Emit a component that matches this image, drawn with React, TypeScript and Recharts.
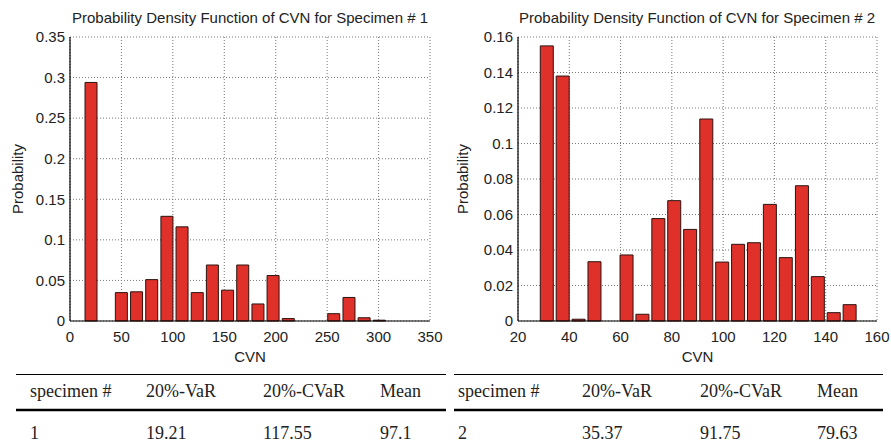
import React from 'react'
import { BarChart, Bar, XAxis, YAxis, CartesianGrid, Label } from 'recharts'

// specimen 1: bin centres (CVN) and probabilities
const cvnBins1 = [20, 34.8, 49.5, 64.3, 79, 93.8, 108.5, 123.3, 138, 152.8, 167.5, 182.3, 197, 211.8, 226.5, 241.3, 256, 270.8, 285.5, 300.3]
const prob1 = [0.294, 0, 0.035, 0.036, 0.051, 0.129, 0.116, 0.035, 0.069, 0.038, 0.069, 0.021, 0.056, 0.003, 0, 0, 0.009, 0.029, 0.004, 0.001]

// specimen 2
const cvnBins2 = [31.4, 37.6, 43.8, 50, 56.3, 62.5, 68.7, 74.9, 81.1, 87.3, 93.6, 99.8, 106, 112.2, 118.4, 124.6, 130.9, 137.1, 143.3, 149.5]
const prob2 = [0.155, 0.138, 0.001, 0.0334, 0, 0.0372, 0.0038, 0.0577, 0.0678, 0.0516, 0.1138, 0.0332, 0.0432, 0.0441, 0.0657, 0.0357, 0.0762, 0.025, 0.0047, 0.0092]

const xTicks1 = [0, 50, 100, 150, 200, 250, 300, 350]
const yTicks1 = [0, 0.05, 0.1, 0.15, 0.2, 0.25, 0.3, 0.35]
const xTicks2 = [20, 40, 60, 80, 100, 120, 140, 160]
const yTicks2 = [0, 0.02, 0.04, 0.06, 0.08, 0.1, 0.12, 0.14, 0.16]

const titles = ['Probability Density Function of CVN for Specimen # 1', 'Probability Density Function of CVN for Specimen # 2']

const tableHeader = ['specimen #', '20%-VaR', '20%-CVaR', 'Mean']
const tableRow1 = ['1', '19.21', '117.55', '97.1']
const tableRow2 = ['2', '35.37', '91.75', '79.63']

const sans = 'Helvetica, Arial, "Liberation Sans", sans-serif'
const serif = '"Times New Roman", "Liberation Serif", serif'
const fmt = (v: number) => String(parseFloat(v.toFixed(2)))

type ChartProps = {
  bins: number[]
  probs: number[]
  xTicks: number[]
  yTicks: number[]
  yAxisWidth: number
  width: number
  right: number
  barSize: number
}

function PdfChart({ bins, probs, xTicks, yTicks, yAxisWidth, width, right, barSize }: ChartProps) {
  const data = bins.map((x, i) => ({ x, p: probs[i] }))
  const xDomain = [xTicks[0], xTicks[xTicks.length - 1]]
  const yDomain = [yTicks[0], yTicks[yTicks.length - 1]]
  return (
    <BarChart width={width} height={370} data={data} margin={{ top: 37, right, bottom: 0, left: 0 }}>
      <CartesianGrid strokeDasharray="1 2" stroke="#777" />
      <XAxis
        dataKey="x"
        type="number"
        domain={xDomain}
        ticks={xTicks}
        height={49}
        tickSize={0}
        tickMargin={10}
        axisLine={{ stroke: '#000', strokeWidth: 1.2 }}
        tick={{ fontSize: 15, fill: '#222', fontFamily: sans }}
        allowDataOverflow
      >
        <Label value="CVN" position="insideBottom" offset={8} style={{ fontSize: 15, fill: '#222', fontFamily: sans }} />
      </XAxis>
      <XAxis xAxisId="top" orientation="top" type="number" domain={xDomain} height={0} tick={false} tickLine={false} axisLine={{ stroke: '#000', strokeWidth: 1.2 }} />
      <YAxis
        type="number"
        domain={yDomain}
        ticks={yTicks}
        width={yAxisWidth}
        tickSize={0}
        tickMargin={5}
        tickFormatter={fmt}
        axisLine={{ stroke: '#000', strokeWidth: 1.2 }}
        tick={{ fontSize: 15, fill: '#222', fontFamily: sans }}
      >
        <Label value="Probability" angle={-90} position="insideLeft" offset={18} style={{ fontSize: 15, fill: '#222', fontFamily: sans, textAnchor: 'middle' }} />
      </YAxis>
      <YAxis yAxisId="right" orientation="right" domain={yDomain} width={0} tick={false} tickLine={false} axisLine={{ stroke: '#000', strokeWidth: 1.2 }} />
      <Bar dataKey="p" fill="#e0302a" stroke="#2a1410" strokeWidth={1} barSize={barSize} isAnimationActive={false} />
    </BarChart>
  )
}

function Table({ x0, x1, cols, row }: { x0: number; x1: number; cols: number[]; row: string[] }) {
  return (
    <g>
      <line x1={x0} x2={x1} y1={374.5} y2={374.5} stroke="#000" strokeWidth={1} />
      <line x1={x0} x2={x1} y1={410} y2={410} stroke="#000" strokeWidth={2.5} />
      {tableHeader.map((h, i) => (
        <text key={'h' + i} x={cols[i]} y={397} fontSize={18} fontFamily={serif} fill="#222">{h}</text>
      ))}
      {row.map((v, i) => (
        <text key={'r' + i} x={cols[i]} y={439} fontSize={18} fontFamily={serif} fill="#222">{v}</text>
      ))}
    </g>
  )
}

export default function App() {
  return (
    <div style={{ position: 'fixed', left: 0, top: 0, width: 891, height: 443, background: '#fff', overflow: 'hidden' }}>
      <div style={{ position: 'absolute', left: 0, top: 0 }}>
        <PdfChart bins={cvnBins1} probs={prob1} xTicks={xTicks1} yTicks={yTicks1} yAxisWidth={70} width={445} right={15} barSize={12} />
      </div>
      <div style={{ position: 'absolute', left: 445, top: 0 }}>
        <PdfChart bins={cvnBins2} probs={prob2} xTicks={xTicks2} yTicks={yTicks2} yAxisWidth={73} width={446} right={14} barSize={13} />
      </div>
      <svg width={891} height={443} style={{ position: 'absolute', left: 0, top: 0, pointerEvents: 'none' }}>
        <text x={250} y={23} textAnchor="middle" fontSize={15} fontFamily={sans} fill="#222">{titles[0]}</text>
        <text x={697} y={23} textAnchor="middle" fontSize={15} fontFamily={sans} fill="#222">{titles[1]}</text>
        <Table x0={16} x1={446} cols={[30, 146, 263, 380]} row={tableRow1} />
        <Table x0={454} x1={883} cols={[458, 582, 700, 817]} row={tableRow2} />
      </svg>
    </div>
  )
}
